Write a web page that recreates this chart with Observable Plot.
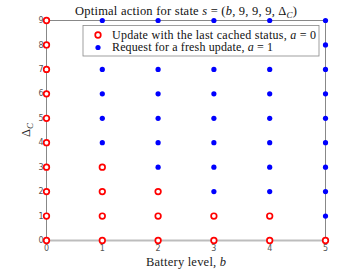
<!DOCTYPE html>
<html><head><meta charset="utf-8">
<script src="https://cdn.jsdelivr.net/npm/d3@7"></script>
<script src="https://cdn.jsdelivr.net/npm/@observablehq/plot@0.6"></script>
<style>body{margin:0;background:#fff}#chart svg{display:block}</style>
</head><body><div id="chart"></div>
<script>
const batteryLevels = [0, 1, 2, 3, 4, 5];
const deltaC = [0, 1, 2, 3, 4, 5, 6, 7, 8, 9];
// optimal action a for each battery level b, indexed by Δ_C = 0..9
const actionB0 = [0, 0, 0, 0, 0, 0, 0, 0, 0, 0];
const actionB1 = [0, 0, 0, 0, 1, 1, 1, 1, 1, 1];
const actionB2 = [0, 0, 0, 1, 1, 1, 1, 1, 1, 1];
const actionB3 = [0, 0, 1, 1, 1, 1, 1, 1, 1, 1];
const actionB4 = [0, 0, 1, 1, 1, 1, 1, 1, 1, 1];
const actionB5 = [0, 1, 1, 1, 1, 1, 1, 1, 1, 1];
const legendLabels = ["Update with the last cached status, ", "Request for a fresh update, "];

const actions = [actionB0, actionB1, actionB2, actionB3, actionB4, actionB5];
const table = [];
batteryLevels.forEach((b, i) => deltaC.forEach((d, j) => table.push({b, d, a: actions[i][j]})));

const serif = "'Liberation Serif', 'DejaVu Serif', serif";
const chart = Plot.plot({
  width: 360, height: 270,
  marginLeft: 46, marginRight: 35, marginTop: 20, marginBottom: 30,
  x: {domain: [0, 5], label: null},
  y: {domain: [0, 9], label: null},
  style: {fontFamily: "'DejaVu Sans', sans-serif", fontSize: "8px", color: "#555", background: "white"},
  marks: [
    Plot.ruleY([9], {stroke: "#888", strokeWidth: 1}),
    Plot.ruleX([0], {stroke: "#888", strokeWidth: 1}),
    Plot.ruleX([5], {stroke: "#888", strokeWidth: 1}),
    Plot.ruleY([0], {stroke: "#bdbdbd", strokeWidth: 2}),
    Plot.axisX({ticks: batteryLevels, tickSize: 0, tickPadding: 5, tickFormat: d => d}),
    Plot.axisY({ticks: deltaC, tickSize: 0, tickPadding: 3, tickFormat: d => d}),
    Plot.dot(table.filter(r => r.a === 1), {x: "b", y: "d", r: 2.6, fill: "#0000ff", stroke: "none"}),
    Plot.dot(table.filter(r => r.a === 0), {x: "b", y: "d", r: 2.8, stroke: "#ff0000", strokeWidth: 1.7, fill: "white"})
  ]
});
document.getElementById("chart").append(chart);

const svg = d3.select(chart);
// title
const t = svg.append("text").attr("x", 75).attr("y", 15).attr("text-anchor", "start")
  .attr("textLength", 222).attr("lengthAdjust", "spacing")
  .attr("font-family", serif).attr("font-size", 12.5).attr("fill", "#111");
t.append("tspan").text("Optimal action for state ");
t.append("tspan").attr("font-style", "italic").text("s");
t.append("tspan").text(" = (");
t.append("tspan").attr("font-style", "italic").text("b");
t.append("tspan").text(", 9, 9, 9, Δ");
t.append("tspan").attr("font-style", "italic").attr("font-size", 9).attr("dy", 2.5).text("C");
t.append("tspan").attr("dy", -2.5).text(")");

// x label
const xl = svg.append("text").attr("x", 146).attr("y", 266).attr("text-anchor", "start")
  .attr("textLength", 80).attr("lengthAdjust", "spacing")
  .attr("font-family", serif).attr("font-size", 12.5).attr("fill", "#222");
xl.append("tspan").text("Battery level, ");
xl.append("tspan").attr("font-style", "italic").text("b");

// y label
const yl = svg.append("text").attr("transform", "translate(30,130) rotate(-90)").attr("text-anchor", "middle")
  .attr("font-family", serif).attr("font-size", 12.5).attr("fill", "#222");
yl.append("tspan").text("Δ");
yl.append("tspan").attr("font-style", "italic").attr("font-size", 9).attr("dy", 2.5).text("C");

// legend
const lg = svg.append("g").attr("text-anchor", "start");
lg.append("rect").attr("x", 83).attr("y", 25.5).attr("width", 236).attr("height", 30.5)
  .attr("fill", "white").attr("stroke", "#888").attr("stroke-width", 0.8);
lg.append("circle").attr("cx", 98).attr("cy", 35).attr("r", 2.8).attr("fill", "white")
  .attr("stroke", "#ff0000").attr("stroke-width", 1.7);
lg.append("circle").attr("cx", 98).attr("cy", 47.5).attr("r", 2.6).attr("fill", "#0000ff");
const legendWidths = [204, 161];
[0, 1].forEach(k => {
  const tx = lg.append("text").attr("x", 112).attr("y", 38.5 + k * 12.5).attr("text-anchor", "start")
    .attr("textLength", legendWidths[k]).attr("lengthAdjust", "spacing")
    .attr("font-family", serif).attr("font-size", 12).attr("fill", "#111");
  tx.append("tspan").text(legendLabels[k]);
  tx.append("tspan").attr("font-style", "italic").text("a");
  tx.append("tspan").text(" = " + (k === 0 ? 0 : 1));
});
</script></body></html>
